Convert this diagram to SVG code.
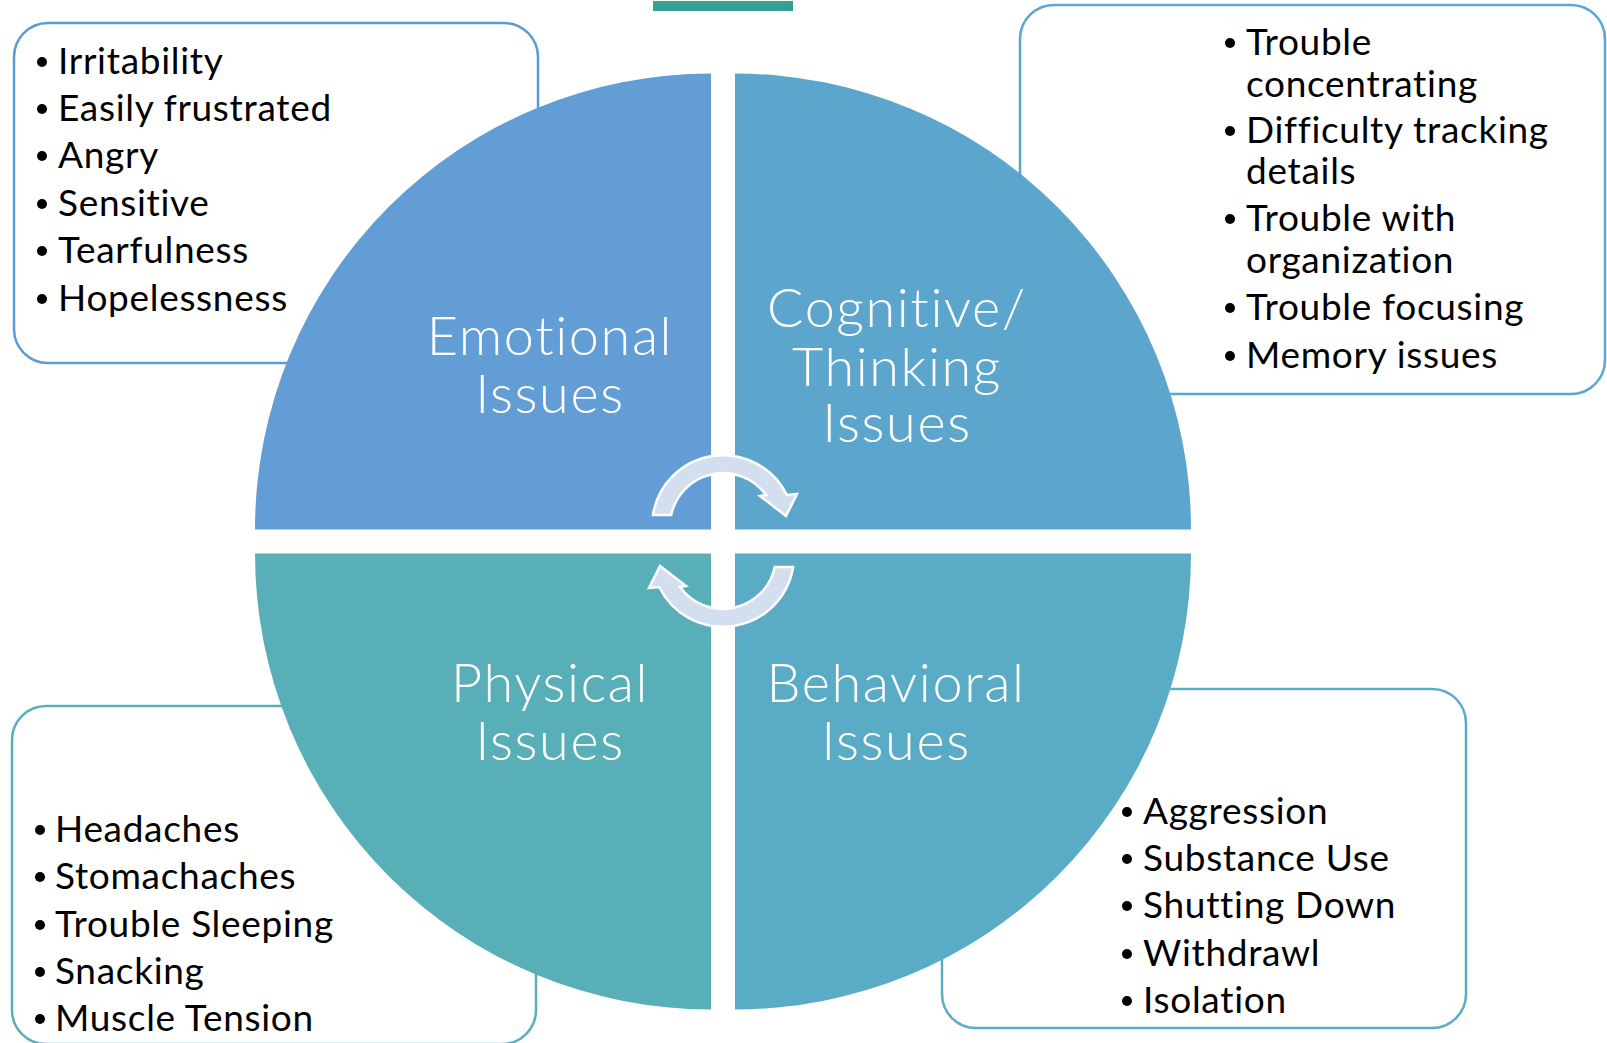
<svg xmlns="http://www.w3.org/2000/svg" width="1607" height="1043" viewBox="0 0 1607 1043">
<style>
.box{fill:#fff;stroke-width:2.5}
.item{font-family:Lato,"Liberation Sans",sans-serif;font-size:37px;letter-spacing:0.7px;fill:#000;font-variant-ligatures:none}
.lbl{font-family:Lato,"Liberation Sans",sans-serif;font-weight:300;font-size:54px;letter-spacing:1.6px;fill:#fff;text-anchor:middle;font-variant-ligatures:none}
.bul{fill:#000}
.arr{fill:#D3DFEF;stroke:#fff;stroke-width:2.5;stroke-linejoin:miter}
</style>
<defs>
<path id="arc" d="M652.9,515 A71,71 0 0 1 786.8,495 L797,494 L786,516 L760,496 L766,495 A53,53 0 0 0 671.2,515 Z"/>
</defs>
<rect id="topbar" x="653" y="1" width="140" height="10" fill="#35A096"/>

<g id="emotional-list">
<rect class="box" x="14" y="23" width="524" height="340" rx="34" stroke="#5B9BD5"/>
</g>
<g id="cognitive-list">
<rect class="box" x="1020" y="5" width="585" height="389" rx="34" stroke="#5BA5CF"/>
</g>
<g id="physical-list">
<rect class="box" x="12" y="706" width="524" height="338" rx="34" stroke="#58AFB9"/>
</g>
<g id="behavioral-list">
<rect class="box" x="942" y="689" width="524" height="339" rx="34" stroke="#5AADC8"/>
</g>

<g id="emotional">
<path d="M711,529.5 L255,529.5 A456,456 0 0 1 711,73.5 Z" fill="#629DD6"/>
<text class="lbl" x="550" y="355">Emotional</text>
<text class="lbl" x="550" y="413">Issues</text>
</g>
<g id="cognitive">
<path d="M735,529.5 L735,73.5 A456,456 0 0 1 1191,529.5 Z" fill="#5CA6CE"/>
<text class="lbl" x="897" y="327">Cognitive/</text>
<text class="lbl" x="897" y="386">Thinking</text>
<text class="lbl" x="897" y="442">Issues</text>
</g>
<g id="physical">
<path d="M711,553.5 L711,1009.5 A456,456 0 0 1 255,553.5 Z" fill="#58AFB8"/>
<text class="lbl" x="550" y="702">Physical</text>
<text class="lbl" x="550" y="760">Issues</text>
</g>
<g id="behavioral">
<path d="M735,553.5 L1191,553.5 A456,456 0 0 1 735,1009.5 Z" fill="#5AACC6"/>
<text class="lbl" x="896" y="702">Behavioral</text>
<text class="lbl" x="896" y="760">Issues</text>
</g>

<g id="connectors">
<use href="#arc" class="arr"/>
<use href="#arc" class="arr" transform="rotate(180 723 541)"/>
</g>

<g id="emotional-items">
<circle class="bul" cx="42" cy="62" r="5"/><text class="item" x="58" y="74">Irritability</text>
<circle class="bul" cx="42" cy="109" r="5"/><text class="item" x="58" y="121">Easily frustrated</text>
<circle class="bul" cx="42" cy="156" r="5"/><text class="item" x="58" y="168">Angry</text>
<circle class="bul" cx="42" cy="204" r="5"/><text class="item" x="58" y="216">Sensitive</text>
<circle class="bul" cx="42" cy="251" r="5"/><text class="item" x="58" y="263">Tearfulness</text>
<circle class="bul" cx="42" cy="299" r="5"/><text class="item" x="58" y="311">Hopelessness</text>
</g>
<g id="cognitive-items">
<circle class="bul" cx="1230" cy="43" r="5"/><text class="item" x="1246" y="55">Trouble</text>
<text class="item" x="1246" y="97">concentrating</text>
<circle class="bul" cx="1230" cy="131" r="5"/><text class="item" x="1246" y="143">Difficulty tracking</text>
<text class="item" x="1246" y="184">details</text>
<circle class="bul" cx="1230" cy="219" r="5"/><text class="item" x="1246" y="231">Trouble with</text>
<text class="item" x="1246" y="273">organization</text>
<circle class="bul" cx="1230" cy="308" r="5"/><text class="item" x="1246" y="320">Trouble focusing</text>
<circle class="bul" cx="1230" cy="356" r="5"/><text class="item" x="1246" y="368">Memory issues</text>
</g>
<g id="physical-items">
<circle class="bul" cx="40" cy="830" r="5"/><text class="item" x="55" y="842">Headaches</text>
<circle class="bul" cx="40" cy="877" r="5"/><text class="item" x="55" y="889">Stomachaches</text>
<circle class="bul" cx="40" cy="925" r="5"/><text class="item" x="55" y="937">Trouble Sleeping</text>
<circle class="bul" cx="40" cy="972" r="5"/><text class="item" x="55" y="984">Snacking</text>
<circle class="bul" cx="40" cy="1019" r="5"/><text class="item" x="55" y="1031">Muscle Tension</text>
</g>
<g id="behavioral-items">
<circle class="bul" cx="1127" cy="812" r="5"/><text class="item" x="1143" y="824">Aggression</text>
<circle class="bul" cx="1127" cy="859" r="5"/><text class="item" x="1143" y="871">Substance Use</text>
<circle class="bul" cx="1127" cy="906" r="5"/><text class="item" x="1143" y="918">Shutting Down</text>
<circle class="bul" cx="1127" cy="954" r="5"/><text class="item" x="1143" y="966">Withdrawl</text>
<circle class="bul" cx="1127" cy="1001" r="5"/><text class="item" x="1143" y="1013">Isolation</text>
</g>
</svg>
